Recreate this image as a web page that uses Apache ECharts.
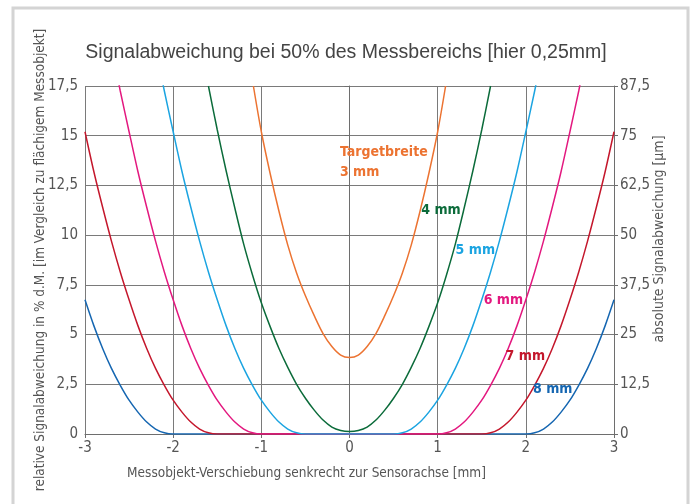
<!DOCTYPE html>
<html lang="de">

<head>
    <meta charset="UTF-8">
    <title>Signalabweichung bei 50% des Messbereichs</title>
    <script src="https://cdn.jsdelivr.net/npm/echarts/dist/echarts.min.js"></script>
    <style>
        body {
            margin: 0;
            background: #ffffff;
        }

        .chart {
            width: 692px;
            height: 504px;
        }
    </style>
</head>

<body>
    <div id="chart" class="chart"></div>

    <script>
        let curve3mm = [[-1.09, 17.5], [-1.0, 15.2], [-0.9, 13.1], [-0.8, 11.2], [-0.7, 9.5], [-0.6, 8.1], [-0.5, 6.95], [-0.4, 5.95], [-0.3, 5.05], [-0.2, 4.4], [-0.1, 3.97], [0, 3.85],
            [0.1, 3.97], [0.2, 4.4], [0.3, 5.05], [0.4, 5.95], [0.5, 6.95], [0.6, 8.1], [0.7, 9.5], [0.8, 11.2], [0.9, 13.1], [1.0, 15.2], [1.09, 17.5]];
        let curve4mm = [[-1.6, 17.5], [-1.5, 15.3], [-1.4, 13.25], [-1.3, 11.35], [-1.2, 9.55], [-1.1, 8.0], [-1.0, 6.6], [-0.9, 5.4], [-0.8, 4.3], [-0.7, 3.35], [-0.6, 2.5], [-0.5, 1.8], [-0.4, 1.2], [-0.3, 0.7], [-0.2, 0.35], [-0.1, 0.18], [0, 0.13],
            [0.1, 0.18], [0.2, 0.35], [0.3, 0.7], [0.4, 1.2], [0.5, 1.8], [0.6, 2.5], [0.7, 3.35], [0.8, 4.3], [0.9, 5.4], [1.0, 6.6], [1.1, 8.0], [1.2, 9.55], [1.3, 11.35], [1.4, 13.25], [1.5, 15.3], [1.6, 17.5]];
        let curve5mm = [[-2.12, 17.7], [-2.1, 17.25], [-2.0, 15.2], [-1.9, 13.2], [-1.8, 11.4], [-1.7, 9.7], [-1.6, 8.15], [-1.5, 6.75], [-1.4, 5.45], [-1.3, 4.3], [-1.2, 3.3], [-1.1, 2.45], [-1.0, 1.7], [-0.9, 1.1], [-0.8, 0.6], [-0.7, 0.25], [-0.6, 0.06], [-0.5, 0],
            [0.5, 0], [0.6, 0.06], [0.7, 0.25], [0.8, 0.6], [0.9, 1.1], [1.0, 1.7], [1.1, 2.45], [1.2, 3.3], [1.3, 4.3], [1.4, 5.45], [1.5, 6.75], [1.6, 8.15], [1.7, 9.7], [1.8, 11.4], [1.9, 13.2], [2.0, 15.2], [2.1, 17.25], [2.12, 17.7]];
        let curve6mm = [[-2.62, 17.7], [-2.6, 17.25], [-2.5, 15.2], [-2.4, 13.2], [-2.3, 11.4], [-2.2, 9.7], [-2.1, 8.15], [-2.0, 6.75], [-1.9, 5.45], [-1.8, 4.3], [-1.7, 3.3], [-1.6, 2.45], [-1.5, 1.7], [-1.4, 1.1], [-1.3, 0.6], [-1.2, 0.25], [-1.1, 0.06], [-1.0, 0],
            [1.0, 0], [1.1, 0.06], [1.2, 0.25], [1.3, 0.6], [1.4, 1.1], [1.5, 1.7], [1.6, 2.45], [1.7, 3.3], [1.8, 4.3], [1.9, 5.45], [2.0, 6.75], [2.1, 8.15], [2.2, 9.7], [2.3, 11.4], [2.4, 13.2], [2.5, 15.2], [2.6, 17.25], [2.62, 17.7]];
        let curve7mm = [[-3.0, 15.2], [-2.9, 13.2], [-2.8, 11.4], [-2.7, 9.7], [-2.6, 8.15], [-2.5, 6.75], [-2.4, 5.45], [-2.3, 4.3], [-2.2, 3.3], [-2.1, 2.45], [-2.0, 1.7], [-1.9, 1.1], [-1.8, 0.6], [-1.7, 0.25], [-1.6, 0.06], [-1.5, 0],
            [1.5, 0], [1.6, 0.06], [1.7, 0.25], [1.8, 0.6], [1.9, 1.1], [2.0, 1.7], [2.1, 2.45], [2.2, 3.3], [2.3, 4.3], [2.4, 5.45], [2.5, 6.75], [2.6, 8.15], [2.7, 9.7], [2.8, 11.4], [2.9, 13.2], [3.0, 15.2]];
        let curve8mm = [[-3.0, 6.75], [-2.9, 5.45], [-2.8, 4.3], [-2.7, 3.3], [-2.6, 2.45], [-2.5, 1.7], [-2.4, 1.1], [-2.3, 0.6], [-2.2, 0.25], [-2.1, 0.06], [-2.0, 0],
            [2.0, 0], [2.1, 0.06], [2.2, 0.25], [2.3, 0.6], [2.4, 1.1], [2.5, 1.7], [2.6, 2.45], [2.7, 3.3], [2.8, 4.3], [2.9, 5.45], [3.0, 6.75]];

        let curveNames = ['8 mm', '7 mm', '6 mm', '5 mm', '4 mm', '3 mm'];
        let curves = [curve8mm, curve7mm, curve6mm, curve5mm, curve4mm, curve3mm];
        let curveColors = ['#1566b1', '#c4172c', '#e3187f', '#1ba4e1', '#0b6b3a', '#ec7331'];

        // Beschriftung der Kurven (Texte und Lage im Datenraum)
        let labelTexts = ['8 mm', '7 mm', '6 mm', '5 mm', '4 mm', 'Targetbreite\n3 mm'];
        let labelCoords = [[2.305, 2.22], [1.994, 3.88], [1.745, 6.74], [1.427, 9.25], [1.037, 11.25], [-0.108, 13.66]];

        let xTicks = { min: -3, max: 3, interval: 1 };
        let yLeftTicks = { min: 0, max: 17.5, interval: 2.5 };
        let yRightTicks = { min: 0, max: 87.5, interval: 12.5 };

        let narrow = "'Liberation Sans Narrow', 'DejaVu Sans Condensed', sans-serif";
        let textGrey = '#555555';

        function komma(v) {
            return String(v).replace('.', ',');
        }

        let chart = echarts.init(document.getElementById('chart'), null, { renderer: 'canvas' });

        let series = curves.map(function (data, i) {
            return {
                name: curveNames[i],
                type: 'line',
                data: data,
                smooth: 0.3,
                showSymbol: false,
                clip: true,
                lineStyle: { color: curveColors[i], width: 1.5 },
                itemStyle: { color: curveColors[i] },
                markPoint: {
                    symbol: 'circle',
                    symbolSize: 0,
                    silent: true,
                    label: {
                        show: true,
                        position: 'inside',
                        formatter: labelTexts[i],
                        color: curveColors[i],
                        fontFamily: narrow,
                        fontWeight: 'bold',
                        fontSize: 14,
                        lineHeight: 20,
                        align: i === 5 ? 'left' : 'center'
                    },
                    data: [{ coord: labelCoords[i] }]
                }
            };
        });

        let option = {
            animation: false,
            backgroundColor: '#ffffff',
            title: {
                text: 'Signalabweichung bei 50% des Messbereichs [hier 0,25mm]',
                left: 'center',
                top: 38,
                textStyle: {
                    fontFamily: "'Liberation Sans', Arial, sans-serif",
                    fontWeight: 'normal',
                    fontSize: 19.5,
                    color: '#444444'
                }
            },
            graphic: [{
                type: 'rect',
                shape: { x: 13, y: 8, width: 675, height: 520 },
                style: { fill: 'none', stroke: '#d4d4d4', lineWidth: 3 },
                silent: true
            }],
            grid: {
                left: 85,
                right: 78,
                top: 86,
                bottom: 70
            },
            xAxis: {
                type: 'value',
                min: xTicks.min,
                max: xTicks.max,
                interval: xTicks.interval,
                name: 'Messobjekt-Verschiebung senkrecht zur Sensorachse [mm]',
                nameLocation: 'middle',
                nameGap: 32,
                nameMoveOverlap: false,
                nameTextStyle: {
                    fontFamily: narrow,
                    fontSize: 13.5,
                    color: textGrey,
                    padding: [0, 86, 0, 0]
                },
                axisLine: { lineStyle: { color: '#6e6e6e', width: 1 } },
                axisTick: { show: true, length: 4, lineStyle: { color: '#6e6e6e' } },
                axisLabel: {
                    fontFamily: narrow,
                    fontSize: 15,
                    color: textGrey,
                    margin: 7
                },
                splitLine: { show: true, lineStyle: { color: '#7a7a7a', width: 1 } }
            },
            yAxis: [
                {
                    type: 'value',
                    position: 'left',
                    min: yLeftTicks.min,
                    max: yLeftTicks.max,
                    interval: yLeftTicks.interval,
                    name: 'relative Signalabweichung in % d.M. [im Vergleich zu flächigem Messobjekt]',
                    nameLocation: 'middle',
                    nameRotate: 90,
                    nameGap: 38,
                    nameMoveOverlap: false,
                    nameTextStyle: {
                        fontFamily: narrow,
                        fontSize: 13.5,
                        color: textGrey
                    },
                    axisLine: { show: true, lineStyle: { color: '#6e6e6e', width: 1 } },
                    axisTick: { show: true, length: 5, lineStyle: { color: '#6e6e6e' } },
                    axisLabel: {
                        fontFamily: narrow,
                        fontSize: 15,
                        color: textGrey,
                        margin: 7,
                        formatter: komma
                    },
                    splitLine: { show: true, lineStyle: { color: '#7a7a7a', width: 1 } }
                },
                {
                    type: 'value',
                    position: 'right',
                    min: yRightTicks.min,
                    max: yRightTicks.max,
                    interval: yRightTicks.interval,
                    name: 'absolute Signalabweichung [μm]',
                    nameLocation: 'middle',
                    nameRotate: 90,
                    nameGap: 38,
                    nameMoveOverlap: false,
                    nameTextStyle: {
                        fontFamily: narrow,
                        fontSize: 14,
                        color: textGrey,
                        padding: [0, 0, 0, 42]
                    },
                    axisLine: { show: true, lineStyle: { color: '#6e6e6e', width: 1 } },
                    axisTick: { show: true, length: 4, lineStyle: { color: '#6e6e6e' } },
                    axisLabel: {
                        fontFamily: narrow,
                        fontSize: 15,
                        color: textGrey,
                        margin: 6,
                        formatter: komma
                    },
                    splitLine: { show: false }
                }
            ],
            series: series
        };
        chart.setOption(option);
    </script>
</body>

</html>
